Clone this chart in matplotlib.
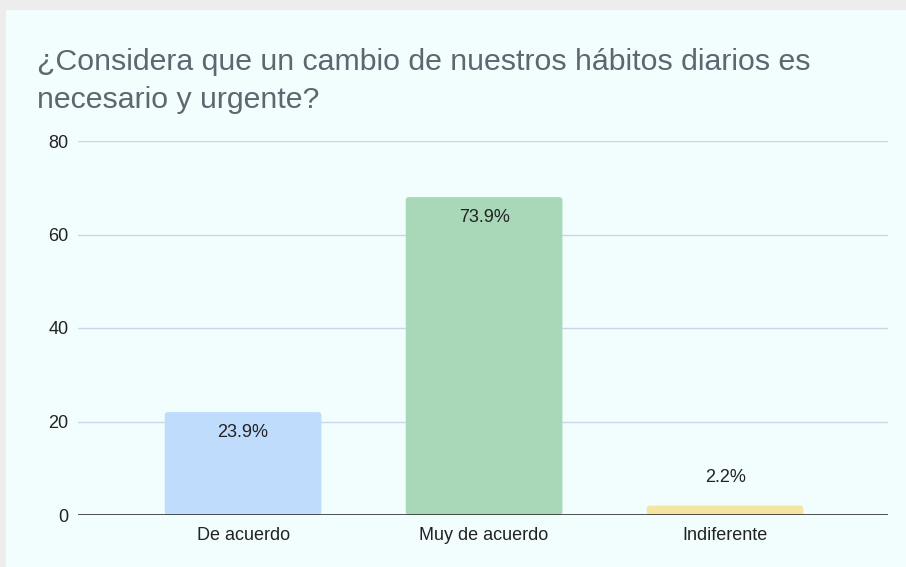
import matplotlib
matplotlib.use("Agg")
import matplotlib.pyplot as plt
from matplotlib.patches import Rectangle, FancyBboxPatch

categories = ["De acuerdo", "Muy de acuerdo", "Indiferente"]
counts = [22, 68, 2]
pct_labels = ["23.9%", "73.9%", "2.2%"]
colors = ["#bfdcfc", "#a9d8b8", "#f4e5a1"]
yticks = [0, 20, 40, 60, 80]

plt.rcParams['font.family'] = ['Liberation Sans', 'DejaVu Sans']

W, H = 906, 567
fig = plt.figure(figsize=(W / 100, H / 100), dpi=100, facecolor="#ededed")
# card background
fig.patches.append(Rectangle((6 / W, 0), 1, 1 - 10 / H, transform=fig.transFigure,
                             facecolor="#f2fdfe", edgecolor="none", zorder=-10))

fig.text(37 / W, 1 - 81 / H, "¿Considera que un cambio de nuestros hábitos diarios es\nnecesario y urgente?",
         fontsize=21.75, color="#5f6670", va="center", ha="left", linespacing=1.47)

ax = fig.add_axes([78 / W, 1 - 515 / H, 810 / W, 374 / H])
ax.set_facecolor("none")
ax.set_xlim(-0.685, 2.676)
ax.set_ylim(0, 80)
ax.set_yticks(yticks)
ax.set_yticklabels([str(t) for t in yticks], fontsize=13, color="#222222")
ax.set_xticks(range(len(categories)))
ax.set_xticklabels(categories, fontsize=13, color="#222222")
ax.tick_params(axis='y', length=0, pad=7)
ax.tick_params(axis='x', length=0, pad=9)
for s in ax.spines.values():
    s.set_visible(False)
ax.yaxis.grid(True, color="#ccd6e6", linewidth=1)
ax.set_axisbelow(True)

bar_w = 0.65
for i, (v, c) in enumerate(zip(counts, colors)):
    p = FancyBboxPatch((i - bar_w / 2, 0), bar_w, v,
                       boxstyle="round,pad=0,rounding_size=0.012",
                       mutation_aspect=80 / 374 * 241,
                       facecolor=c, edgecolor="none", zorder=2)
    ax.add_patch(p)

ax.axhline(0, color="#333333", linewidth=1.2, zorder=3)

for i, (v, lab) in enumerate(zip(counts, pct_labels)):
    if v > 10:
        ax.annotate(lab, (i, v), xytext=(0, -20), textcoords="offset pixels",
                    ha="center", va="center", fontsize=13, color="#222222", zorder=4)
    else:
        ax.annotate(lab, (i, v), xytext=(0, 28), textcoords="offset pixels",
                    ha="center", va="center", fontsize=13, color="#222222", zorder=4)

fig.savefig("out.png", dpi=100, facecolor=fig.get_facecolor())
